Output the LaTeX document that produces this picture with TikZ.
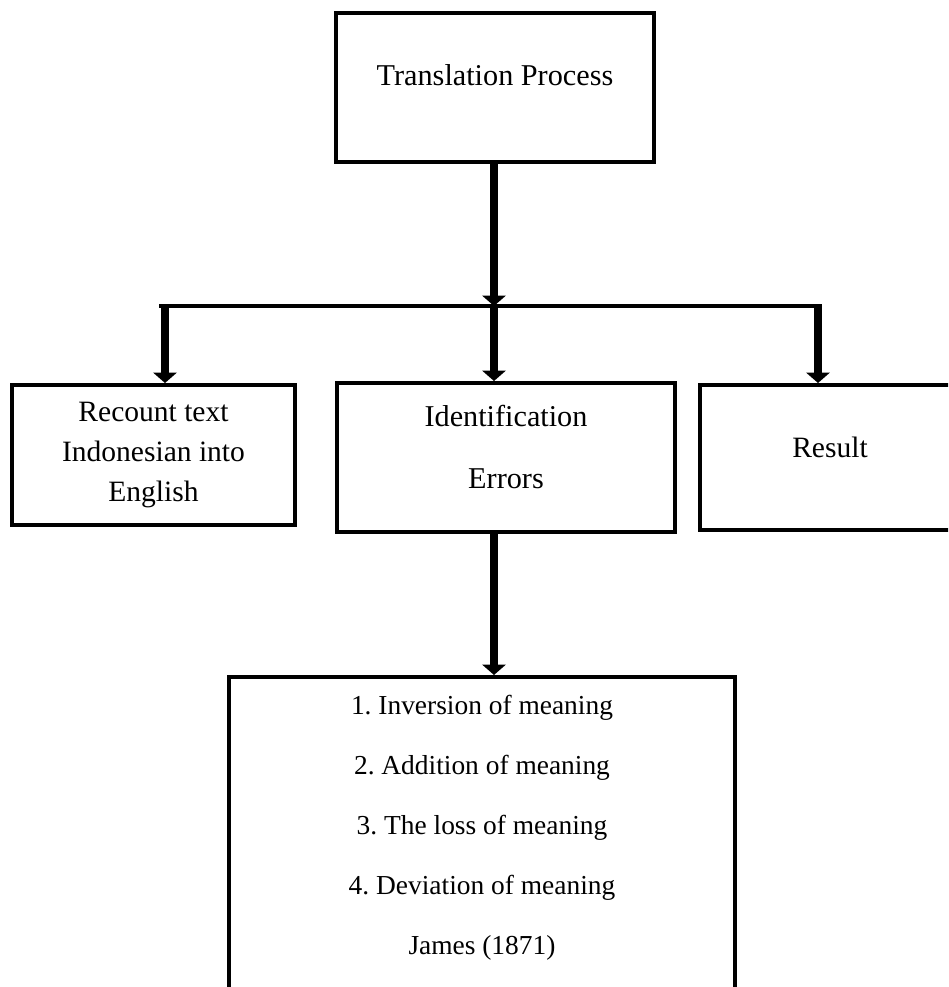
\documentclass[tikz,border=0pt]{standalone}
\usepackage{fontspec}
\setmainfont{Liberation Serif}
\usetikzlibrary{arrows.meta,positioning}
\frenchspacing

\begin{document}
\begin{tikzpicture}[x=0.025cm,y=-0.025cm]
   \tikzstyle{box}=[draw, rectangle, line width=2.8pt, inner sep=0pt, align=center, font=\fontsize{21}{28.45}\selectfont]
   \tikzstyle{stem}=[line width=6pt, -{Triangle[width=0.58cm,length=0.26cm]}]
   \tikzstyle{bar}=[line width=3pt]

\useasboundingbox (0,0) rectangle (948,987);
\clip (0,0) rectangle (948,987);

% boxes
\node[box, minimum width=7.95cm, minimum height=3.725cm, text depth=0.6cm, font=\fontsize{21.5}{28.45}\selectfont] (process) at (495,87.5) {Translation Process};
\node[box, minimum width=7.075cm, minimum height=3.5cm] (recount) at (153.5,455) {Recount text\\Indonesian into\\English};
\node[box, minimum width=8.45cm, minimum height=3.725cm, text depth=0.55cm, font=\fontsize{21.5}{44}\selectfont] (ident) at (506,457.5) {Identification\\Errors};
\node[box, minimum width=6.5cm, minimum height=3.625cm, text depth=0.5cm] (result) at (830,457.5) {Result};
\node[box, minimum width=12.65cm, minimum height=8.075cm] (errors) at (482,838.5) {};
\node[align=center, font=\fontsize{19.5}{42.7}\selectfont] (types) at (482,828) {1. Inversion of meaning\\2. Addition of meaning\\3. The loss of meaning\\4. Deviation of meaning\\James (1871)};

% connectors
\coordinate (bl) at (159,306);
\coordinate (br) at (822,306);
\coordinate (ls) at (165,306);
\coordinate (ms) at (494,306);
\coordinate (rs) at (818,306);
\draw[bar] (bl) -- (br);
\draw[stem] (process.south -| ms) -- (ms);
\draw[stem] (ls) -- (ls |- recount.north);
\draw[stem] (ms) -- (ms |- ident.north);
\draw[stem] (rs) -- (rs |- result.north);
\draw[stem] (ident.south -| ms) -- (ms |- errors.north);

\end{tikzpicture}
\end{document}
